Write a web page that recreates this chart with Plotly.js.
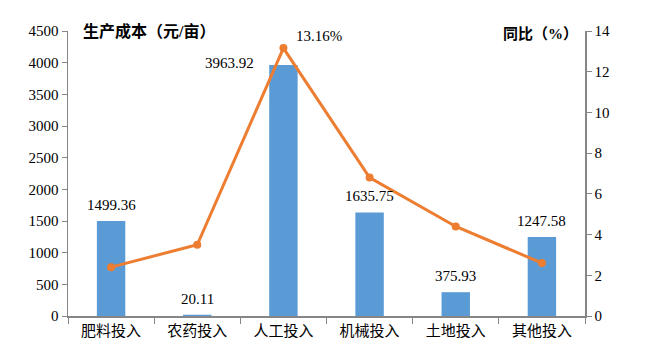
<!DOCTYPE html>
<html><head><meta charset="utf-8">
<script src="https://cdn.plot.ly/plotly-3.0.1.min.js"></script>
<style>body{margin:0;background:#fff}#c{width:650px;height:354px}</style>
</head><body><div id="c"></div>
<script>
const categories = ['肥料投入','农药投入','人工投入','机械投入','土地投入','其他投入'];
const costValues = [1499.36, 20.11, 3963.92, 1635.75, 375.93, 1247.58];
const yoyValues = [2.4, 3.5, 13.16, 6.8, 4.4, 2.6];
const leftTicks = [0,500,1000,1500,2000,2500,3000,3500,4000,4500];
const rightTicks = [0,2,4,6,8,10,12,14];

const numFont = 'Liberation Serif, Times New Roman, serif';
const cjkFont = 'Liberation Serif, Noto Sans CJK SC, serif';

const traces = [
  {type:'bar', x:categories, y:costValues, marker:{color:'#5B9BD5'}, width:0.33, yaxis:'y', hoverinfo:'none'},
  {type:'scatter', mode:'lines+markers', x:categories, y:yoyValues, yaxis:'y2',
   line:{color:'#ED7D31', width:3}, marker:{color:'#ED7D31', size:8}, hoverinfo:'none'}
];

const annotations = costValues.map((v,i)=>({
  x:categories[i], y:v, xref:'x', yref:'y', text:v.toFixed(2), showarrow:false,
  yanchor: i===2 ? 'middle' : 'bottom', yshift: i===2 ? 2 : 6, xshift: i===2 ? -54 : 0,
  font:{family:numFont, size:15, color:'#000'}
}));
annotations.push({x:categories[2], y:yoyValues[2], xref:'x', yref:'y2', text:yoyValues[2].toFixed(2)+'%',
  showarrow:false, xanchor:'left', yanchor:'bottom', xshift:11, yshift:2,
  font:{family:numFont, size:15, color:'#000'}});
annotations.push({xref:'paper', yref:'paper', x:0.025, y:1.0, xanchor:'left', yanchor:'middle',
  text:'<b>生产成本（元/亩）</b>', showarrow:false, font:{family:cjkFont, size:16, color:'#000'}});
annotations.push({xref:'paper', yref:'paper', x:0.99, y:0.99, xanchor:'right', yanchor:'middle',
  text:'<b>同比（%）</b>', showarrow:false, font:{family:cjkFont, size:15, color:'#000'}});

const layout = {
  width:650, height:354, margin:{l:68, r:65, t:31, b:38},
  paper_bgcolor:'#fff', plot_bgcolor:'#fff', showlegend:false, bargap:0.67,
  xaxis:{type:'category', showline:true, linecolor:'#868686', linewidth:1.5, ticks:'outside', tickson:'boundaries',
    ticklen:6, tickcolor:'#868686', showgrid:false, tickfont:{family:cjkFont, size:15, color:'#000'}, fixedrange:true},
  yaxis:{range:[0,4500], tickvals:leftTicks, showline:true, linecolor:'#868686', linewidth:1.5, ticks:'outside',
    ticklen:5, tickcolor:'#868686', showgrid:false, zeroline:false, tickfont:{family:numFont, size:15, color:'#000'}},
  yaxis2:{range:[0,14], tickvals:rightTicks, overlaying:'y', side:'right', showline:true, linecolor:'#868686',
    linewidth:1.5, ticks:'outside', ticklen:5, tickcolor:'#868686', showgrid:false, zeroline:false,
    tickfont:{family:numFont, size:15, color:'#000'}},
  annotations:annotations
};
Plotly.newPlot('c', traces, layout, {displayModeBar:false, staticPlot:true});
</script></body></html>
